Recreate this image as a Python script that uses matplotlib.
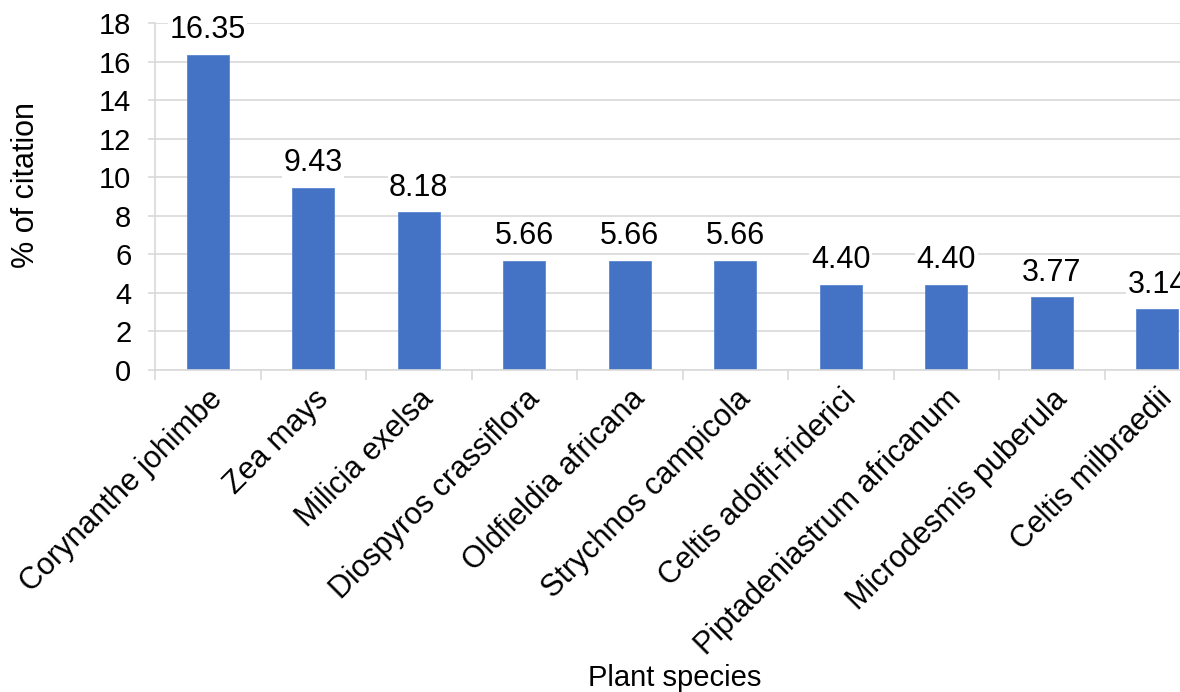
import matplotlib
matplotlib.use("Agg")
import matplotlib.pyplot as plt
import numpy as np
from matplotlib.ticker import FixedLocator, MultipleLocator

plt.rcParams['font.family'] = ['Liberation Sans', 'DejaVu Sans']

species = ["Corynanthe johimbe", "Zea mays", "Milicia exelsa", "Diospyros crassiflora",
           "Oldfieldia africana", "Strychnos campicola", "Celtis adolfi-friderici",
           "Piptadeniastrum africanum", "Microdesmis puberula", "Celtis milbraedii"]
citation = [16.35, 9.43, 8.18, 5.66, 5.66, 5.66, 4.40, 4.40, 3.77, 3.14]

fig = plt.figure(figsize=(11.8, 6.92), dpi=100)
ax = fig.add_axes([155/1180, 1-370/692, 1055/1180, 347/692])

x = np.arange(len(species))
ax.bar(x, citation, width=0.4, color="#4472C4", edgecolor="#5b86d0", linewidth=0.6, zorder=2)

ax.set_xlim(-0.5, len(species)-0.5)
ax.set_ylim(0, 18)
ax.yaxis.set_major_locator(MultipleLocator(2))
ax.grid(axis='y', color='#d9d9d9', linewidth=1.2, zorder=0)
ax.set_axisbelow(True)

for s in ['top', 'right']:
    ax.spines[s].set_visible(False)
for s in ['left', 'bottom']:
    ax.spines[s].set_color('#d9d9d9')
    ax.spines[s].set_linewidth(1.2)

ax.set_xticks(x)
ax.set_xticklabels(species, rotation=45, ha='right', rotation_mode='anchor', fontsize=22)
ax.tick_params(axis='x', which='major', length=0, pad=10)
ax.xaxis.set_minor_locator(FixedLocator(np.arange(-0.5, len(species), 1.0)))
ax.tick_params(axis='x', which='minor', length=7, color='#d9d9d9', width=1.2)
ax.tick_params(axis='y', length=5, color='#d9d9d9', width=1.2, labelsize=21, pad=12)

for xi, v in zip(x, citation):
    ax.annotate(f"{v:.2f}", (xi, v), xytext=(0, 7), textcoords='offset points',
                ha='center', va='bottom', fontsize=22, color='black',
                bbox=dict(facecolor='white', edgecolor='none', pad=1), zorder=3)

fig.text(26/1180, 1-185/692, "% of citation", rotation=90, ha='center', va='center', fontsize=22)
fig.text(675/1180, 1-678/692, "Plant species", ha='center', va='center', fontsize=21)

fig.savefig("out.png", dpi=100)
